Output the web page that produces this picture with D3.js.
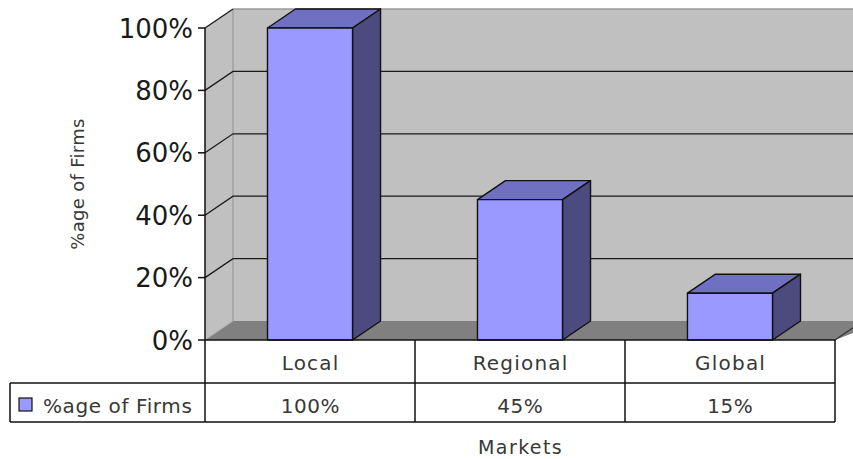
<!DOCTYPE html>
<html>
<head>
<meta charset="utf-8">
<script src="https://cdn.jsdelivr.net/npm/d3@7"></script>
<style>
  html, body { margin: 0; padding: 0; background: #fff; }
  svg { display: block; }
  text { font-family: "DejaVu Sans", Verdana, sans-serif; }
</style>
</head>
<body>
<svg id="chart" width="853" height="459"></svg>
<script>
// Share of firms by market reach
const categories = ["Local", "Regional", "Global"];
const values = [100, 45, 15];
const valueLabels = ["100%", "45%", "15%"];
const yTicks = [0, 20, 40, 60, 80, 100];
const seriesName = "%age of Firms";
const xTitle = "Markets";
const yTitle = "%age of Firms";

const W = 853, H = 459;
const plotL = 205, plotR = 835, plotT = 28, plotB = 340;
const dx = 28, dy = -19; // depth offset of the 3D box

const svg = d3.select("#chart");

const y = d3.scaleLinear().domain([0, 100]).range([plotB, plotT]);
const xCols = d3.scaleBand().domain(categories).range([plotL, plotR]).padding(0);
const xBars = d3.scaleBand().domain(categories).range([plotL, plotR])
  .paddingInner(0.595).paddingOuter(0.2976);

const poly = pts => "M" + pts.map(p => p.join(",")).join("L") + "Z";

// Back wall
svg.append("path")
  .attr("d", poly([[plotL + dx, plotT + dy], [W + 20, plotT + dy], [W + 20, plotB + dy], [plotL + dx, plotB + dy]]))
  .attr("fill", "#c0c0c0");
// Side wall
svg.append("path")
  .attr("d", poly([[plotL, plotB], [plotL, plotT], [plotL + dx, plotT + dy], [plotL + dx, plotB + dy]]))
  .attr("fill", "#c0c0c0");
// Floor
svg.append("path")
  .attr("d", poly([[plotL, plotB], [plotL + dx, plotB + dy], [plotR + dx + 20, plotB + dy], [plotR, plotB]]))
  .attr("fill", "#808080");
svg.append("line")
  .attr("x1", plotR).attr("y1", plotB).attr("x2", plotR + dx).attr("y2", plotB + dy)
  .attr("stroke", "#333").attr("stroke-width", 1.2);

// Wall edges
svg.append("line")
  .attr("x1", plotL + dx).attr("y1", plotT + dy).attr("x2", plotL + dx).attr("y2", plotB + dy)
  .attr("stroke", "#999").attr("stroke-width", 1.2);
svg.append("line")
  .attr("x1", plotL + dx).attr("y1", plotT + dy).attr("x2", W + 20).attr("y2", plotT + dy)
  .attr("stroke", "#999").attr("stroke-width", 1.5);
svg.append("line")
  .attr("x1", plotL).attr("y1", plotB).attr("x2", plotL + dx).attr("y2", plotB + dy)
  .attr("stroke", "#aaa").attr("stroke-width", 1);

// Gridlines on side and back walls
const grid = svg.append("g").attr("stroke", "#1a1a1a").attr("stroke-width", 1.3).attr("fill", "none");
yTicks.filter(t => t > 0).forEach(t => {
  const yy = y(t);
  grid.append("path").attr("d", `M${plotL},${yy}L${plotL + dx},${yy + dy}` + (t < 100 ? `L${W + 20},${yy + dy}` : ""));
});

// 3D bars
const bars = svg.append("g").attr("stroke", "#111").attr("stroke-width", 1.4).attr("stroke-linejoin", "round");
categories.forEach((c, i) => {
  const x0 = xBars(c), x1 = x0 + xBars.bandwidth();
  const yt = y(values[i]), yb = y(0);
  // top face
  bars.append("path").attr("fill", "#7070c2")
    .attr("d", poly([[x0, yt], [x0 + dx, yt + dy], [x1 + dx, yt + dy], [x1, yt]]));
  // side face
  bars.append("path").attr("fill", "#4b4b80")
    .attr("d", poly([[x1, yt], [x1 + dx, yt + dy], [x1 + dx, yb + dy], [x1, yb]]));
  // front face
  bars.append("path").attr("fill", "#9999ff")
    .attr("d", poly([[x0, yt], [x1, yt], [x1, yb], [x0, yb]]));
});

// Y axis
const yAxis = svg.append("g");
yAxis.append("line").attr("x1", plotL).attr("y1", plotT).attr("x2", plotL).attr("y2", plotB)
  .attr("stroke", "#111").attr("stroke-width", 1.5);
yTicks.forEach(t => {
  yAxis.append("line").attr("x1", plotL - 7).attr("x2", plotL).attr("y1", y(t)).attr("y2", y(t))
    .attr("stroke", "#111").attr("stroke-width", 1.5);
  yAxis.append("text").attr("x", plotL - 12).attr("y", y(t) + 9.5)
    .attr("text-anchor", "end").attr("font-size", 26).attr("fill", "#1a1a1a")
    .text(t + "%");
});

// Data table
const rowTop = plotB, rowMid = 383, rowBot = 422, legLeft = 10;
const table = svg.append("g").attr("stroke", "#111").attr("stroke-width", 1.5);
table.append("line").attr("x1", plotL).attr("x2", plotR).attr("y1", rowTop).attr("y2", rowTop);
table.append("line").attr("x1", legLeft).attr("x2", plotR).attr("y1", rowMid).attr("y2", rowMid);
table.append("line").attr("x1", legLeft).attr("x2", plotR).attr("y1", rowBot).attr("y2", rowBot);
table.append("line").attr("x1", legLeft).attr("x2", legLeft).attr("y1", rowMid).attr("y2", rowBot);
[plotL, ...categories.map(c => xCols(c) + xCols.bandwidth())].forEach(xx => {
  table.append("line").attr("x1", xx).attr("x2", xx).attr("y1", rowTop).attr("y2", rowBot);
});

const cells = svg.append("g").attr("font-size", 20).attr("fill", "#383838").attr("text-anchor", "middle");
categories.forEach((c, i) => {
  const cx = xCols(c) + xCols.bandwidth() / 2;
  cells.append("text").attr("x", cx + 0.6).attr("y", 370).attr("letter-spacing", 1.2).text(c);
  cells.append("text").attr("x", cx + 0.3).attr("y", 413).attr("letter-spacing", 0.5).text(valueLabels[i]);
});

// Legend key in table
svg.append("rect").attr("x", 19).attr("y", 398).attr("width", 13).attr("height", 13)
  .attr("fill", "#9999ff").attr("stroke", "#111").attr("stroke-width", 1.2);
svg.append("text").attr("x", 43).attr("y", 413).attr("font-size", 20).attr("fill", "#383838")
  .attr("letter-spacing", 0.6).text(seriesName);

// Axis titles
svg.append("text").attr("x", 520.6).attr("y", 454).attr("text-anchor", "middle")
  .attr("font-size", 19).attr("fill", "#383838").attr("letter-spacing", 1.4).text(xTitle);
svg.append("text").attr("transform", "translate(84,184) rotate(-90)").attr("text-anchor", "middle")
  .attr("font-size", 18).attr("fill", "#383838").attr("letter-spacing", 0.3).text(yTitle);
</script>
</body>
</html>
